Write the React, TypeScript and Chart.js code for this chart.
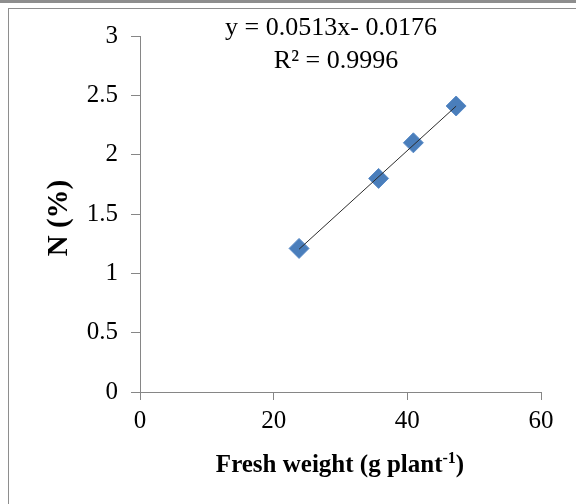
import React, { useEffect, useRef } from 'react';
import { Chart, registerables } from 'chart.js';

Chart.register(...registerables);

// ---- data ----
const freshWeight = [23.8, 35.7, 40.9, 47.3];
const nitrogenPct = [1.21, 1.8, 2.1, 2.41];
const xTickValues = [0, 20, 40, 60];
const yTickValues = [0, 0.5, 1, 1.5, 2, 2.5, 3];
const trendSlope = 0.0513;
const trendIntercept = -0.0176;
const equationText = 'y = 0.0513x- 0.0176';
const rSquaredText = 'R² = 0.9996';
const xTitleMain = 'Fresh weight (g plant';
const xTitleSup = '-1';
const xTitleEnd = ')';
const yTitle = 'N (%)';

const FONT = "'Liberation Serif', 'Times New Roman', serif";
const AXIS_GRAY = '#868686';

const trendX = [Math.min(...freshWeight), Math.max(...freshWeight)];
const trendPoints = trendX.map((x) => ({ x, y: trendSlope * x + trendIntercept }));

const annotationPlugin = {
  id: 'annotations',
  afterDraw(chart: any) {
    const ctx = chart.ctx;
    ctx.save();
    ctx.fillStyle = '#000';
    ctx.textBaseline = 'alphabetic';
    // equation
    ctx.font = `26px ${FONT}`;
    ctx.textAlign = 'center';
    ctx.fillText(equationText, 331, 35);
    ctx.fillText(rSquaredText, 336, 68);
    // x title with superscript
    ctx.textAlign = 'left';
    const mainFont = `bold 25px ${FONT}`;
    const supFont = `bold 16px ${FONT}`;
    ctx.font = mainFont;
    const w1 = ctx.measureText(xTitleMain).width;
    const w3 = ctx.measureText(xTitleEnd).width;
    ctx.font = supFont;
    const w2 = ctx.measureText(xTitleSup).width;
    const total = w1 + w2 + w3;
    let x = 340 - total / 2;
    const yBase = 472;
    ctx.font = mainFont;
    ctx.fillText(xTitleMain, x, yBase);
    x += w1;
    ctx.font = supFont;
    ctx.fillText(xTitleSup, x, yBase - 9);
    x += w2;
    ctx.font = mainFont;
    ctx.fillText(xTitleEnd, x, yBase);
    // y title
    ctx.translate(60, 218);
    ctx.rotate(-Math.PI / 2);
    ctx.textAlign = 'center';
    ctx.textBaseline = 'middle';
    ctx.font = `bold 29px ${FONT}`;
    ctx.fillText(yTitle, 0, 0);
    ctx.restore();
  },
};

export default function App() {
  const canvasRef = useRef<HTMLCanvasElement | null>(null);

  useEffect(() => {
    if (!canvasRef.current) return;
    const chart = new Chart(canvasRef.current, {
      type: 'scatter',
      data: {
        datasets: [
          {
            type: 'line',
            label: 'Trend',
            data: trendPoints,
            borderColor: '#2b2b2b',
            borderWidth: 1,
            pointRadius: 0,
            fill: false,
            order: 0,
          } as any,
          {
            label: 'N',
            data: freshWeight.map((x, i) => ({ x, y: nitrogenPct[i] })),
            backgroundColor: '#4A7EBB',
            borderColor: '#5A8CC8',
            borderWidth: 1,
            pointStyle: 'rectRot',
            pointRadius: 10,
            order: 1,
          },
        ],
      },
      options: {
        animation: false,
        responsive: false,
        events: [],
        layout: { padding: { left: 0, right: 35, top: 36, bottom: 0 } },
        plugins: {
          legend: { display: false },
          tooltip: { enabled: false },
          title: { display: false },
        },
        scales: {
          x: {
            type: 'linear',
            min: 0,
            max: 60,
            afterBuildTicks: (s: any) => {
              s.ticks = xTickValues.map((v) => ({ value: v }));
            },
            afterFit: (s: any) => {
              s.height = 112;
            },
            border: { display: true, color: AXIS_GRAY, width: 1 },
            grid: {
              display: true,
              drawOnChartArea: false,
              drawTicks: true,
              tickLength: 8,
              color: AXIS_GRAY,
            },
            ticks: {
              color: '#000',
              padding: 6,
              font: { family: FONT, size: 25 },
              maxRotation: 0,
              callback: (v: any) => String(v),
            },
          },
          y: {
            type: 'linear',
            min: 0,
            max: 3,
            afterBuildTicks: (s: any) => {
              s.ticks = yTickValues.map((v) => ({ value: v }));
            },
            afterFit: (s: any) => {
              s.width = 140;
            },
            border: { display: true, color: AXIS_GRAY, width: 1 },
            grid: {
              display: true,
              drawOnChartArea: false,
              drawTicks: true,
              tickLength: 9,
              color: AXIS_GRAY,
            },
            ticks: {
              color: '#000',
              padding: 13,
              font: { family: FONT, size: 25 },
              callback: (v: any) => String(v),
            },
          },
        },
      },
      plugins: [annotationPlugin],
    });
    return () => chart.destroy();
  }, []);

  return (
    <div
      style={{
        position: 'absolute',
        left: 0,
        top: 0,
        width: 576,
        height: 504,
        background: '#fff',
        overflow: 'hidden',
      }}
    >
      <div style={{ position: 'absolute', left: 0, top: 0, width: 576, height: 3, background: '#8e8e8e' }} />
      <div
        style={{
          position: 'absolute',
          left: 8,
          top: 8,
          width: 576,
          height: 504,
          borderTop: '1px solid #8e8e8e',
          borderLeft: '1px solid #8e8e8e',
        }}
      />
      <canvas
        ref={canvasRef}
        width={576}
        height={504}
        style={{ position: 'absolute', left: 0, top: 0, width: 576, height: 504 }}
      />
    </div>
  );
}
